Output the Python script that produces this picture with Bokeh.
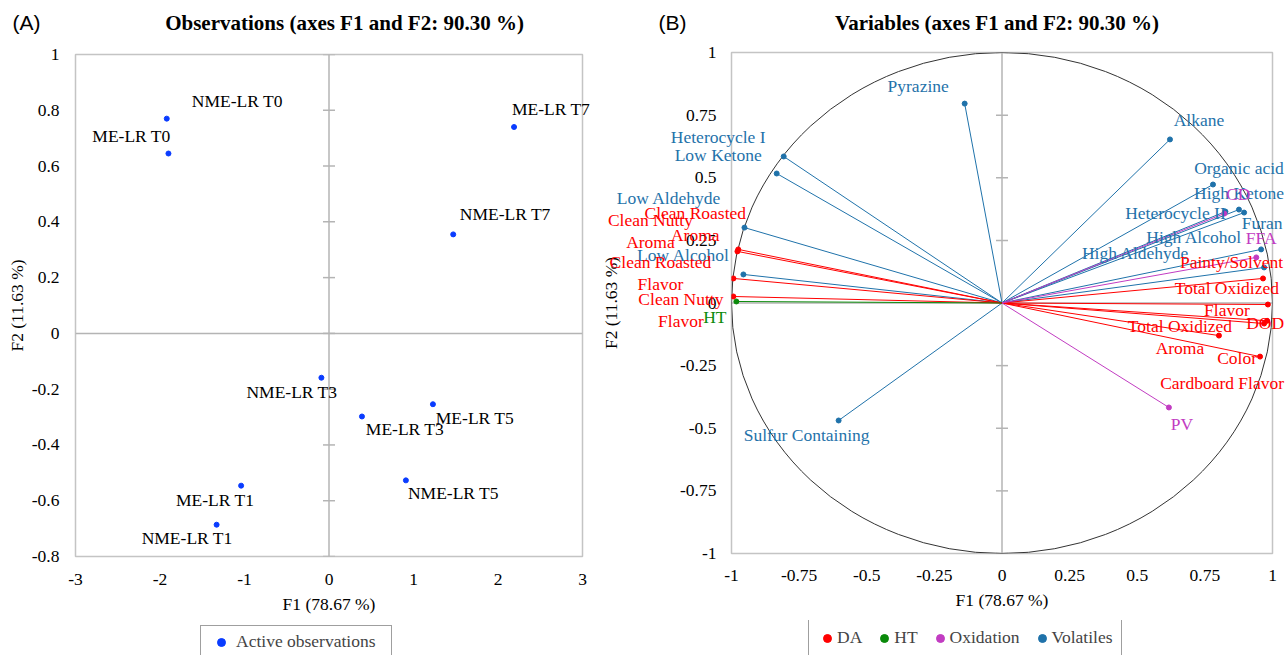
from bokeh.plotting import figure
from bokeh.layouts import row, column
from bokeh.models import Range1d, FixedTicker, Span, Legend, LegendItem, ColumnDataSource
from bokeh.core.properties import value
from bokeh.embed import file_html
from bokeh.resources import INLINE

SERIF = "Liberation Serif"
SANS = "Liberation Sans"

# ---------------- (A) Observations ----------------
OBS_NAMES = ["NME-LR T0", "ME-LR T0", "ME-LR T7", "NME-LR T7", "NME-LR T3",
             "ME-LR T3", "ME-LR T5", "NME-LR T5", "ME-LR T1", "NME-LR T1"]
OBS_F1 = [-1.92, -1.90, 2.19, 1.47, -0.09, 0.39, 1.23, 0.91, -1.04, -1.33]
OBS_F2 = [0.77, 0.645, 0.74, 0.355, -0.159, -0.298, -0.254, -0.527, -0.546, -0.686]

A_X_TICKS = [-3, -2, -1, 0, 1, 2, 3]
A_X_LABELS = ["-3", "-2", "-1", "0", "1", "2", "3"]
A_Y_TICKS = [-0.8, -0.6, -0.4, -0.2, 0, 0.2, 0.4, 0.6, 0.8, 1]
A_Y_LABELS = ["-0.8", "-0.6", "-0.4", "-0.2", "0", "0.2", "0.4", "0.6", "0.8", "1"]

# ---------------- (B) Variables ----------------
VOL_NAMES = ["Pyrazine", "Alkane", "Heterocycle I", "Low Ketone", "Low Aldehyde",
             "Low Alcohol", "Sulfur Containing", "Organic acid", "High Ketone",
             "Heterocycle II", "Furan", "High Alcohol", "High Aldehyde"]
VOL_F1 = [-0.138, 0.621, -0.807, -0.833, -0.952, -0.956, -0.604, 0.780, 0.876,
          0.826, 0.895, 0.958, 0.969]
VOL_F2 = [0.796, 0.653, 0.585, 0.517, 0.301, 0.114, -0.469, 0.473, 0.373,
          0.365, 0.361, 0.214, 0.142]

DA_NAMES = ["Clean Roasted\nAroma", "Clean Nutty\nAroma", "Clean Roasted\nFlavor",
            "Clean Nutty\nFlavor", "Painty/Solvent", "Total Oxidized\nFlavor", "DOD",
            "Total Oxidized\nAroma", "Color", "Cardboard Flavor"]
DA_F1 = [-0.975, -0.978, -0.993, -0.993, 0.965, 0.983, 0.969, 0.802, 0.954, 0.980]
DA_F2 = [0.214, 0.206, 0.098, 0.026, 0.098, -0.006, -0.082, -0.130, -0.214, -0.071]

HT_NAMES = ["HT"]
HT_F1 = [-0.982]
HT_F2 = [0.006]

OX_NAMES = ["CD", "FFA", "PV"]
OX_F1 = [0.822, 0.940, 0.617]
OX_F2 = [0.357, 0.182, -0.417]

B_TICKS = [-1, -0.75, -0.5, -0.25, 0, 0.25, 0.5, 0.75, 1]
B_LABELS = ["-1", "-0.75", "-0.5", "-0.25", "0", "0.25", "0.5", "0.75", "1"]

TITLE_A = "Observations (axes F1 and F2: 90.30 %)"
TITLE_B = "Variables (axes F1 and F2: 90.30 %)"
LEGEND_A = ["Active observations"]
LEGEND_B = ["DA", "HT", "Oxidation", "Volatiles"]

# ---------------- label placement (pixel offsets, style only) ----------------
OBS_DX = [70.5, -37, 37, 52, -29.5, 43, 42, 47.5, -26, -29.5]
OBS_DY = [-18, -18, -18, -20, 14, 13, 14, 13, 14, 13]
VOL_DX = [-46.5, 29, -65.5, -58.5, -75.5, -60, -32, 26, 0, -50, 18, -67, -128.5]
VOL_DY = [-18, -19, -19, -18, -30, -19, 15, -17, -17, 1, 10, -12, -14]
DA_DX = [-43, -87, -73, -52.5, -31.5, -41, 1, -39, -23, -45]
DA_DY = [-25.5, -20.5, -5.5, 14, -16, -6, -1, 1.5, 1, 62]
HT_DX = [-21.5]
HT_DY = [16]
OX_DX = [14, 5, 13]
OX_DY = [-20, -19, 17]

C_OBS = "#0a3cff"
C_DA = "#ff0000"
C_HT = "#0a8a0a"
C_OX = "#c23cc2"
C_VOL = "#1f72aa"
GRAY = "#b4b4b4"
FS = "17.5px"


def style_axes(p, xt, xl, yt, yl, xstand, xlabstand, ystand, ylabstand):
    p.xaxis.ticker = FixedTicker(ticks=xt)
    p.yaxis.ticker = FixedTicker(ticks=yt)
    p.xaxis.major_label_overrides = dict(zip(xt, xl))
    p.yaxis.major_label_overrides = dict(zip(yt, yl))
    for ax in (p.xaxis, p.yaxis):
        ax.axis_line_color = None
        ax.major_tick_line_color = None
        ax.minor_tick_line_color = None
        ax.major_tick_out = 0
        ax.major_tick_in = 0
        ax.major_label_text_font = SERIF
        ax.major_label_text_font_size = FS
        ax.major_label_text_color = "#000000"
        ax.axis_label_text_font = SERIF
        ax.axis_label_text_font_size = FS
        ax.axis_label_text_font_style = "normal"
        ax.axis_label_text_color = "#000000"
    p.xaxis.major_label_standoff = xstand
    p.xaxis.axis_label_standoff = xlabstand
    p.yaxis.major_label_standoff = ystand
    p.yaxis.axis_label_standoff = ylabstand
    p.xaxis.axis_label = "F1 (78.67 %)"
    p.yaxis.axis_label = "F2 (11.63 %)"
    p.xgrid.visible = False
    p.ygrid.visible = False
    p.outline_line_color = "#c4c4c4"
    p.outline_line_width = 1.5
    p.background_fill_color = "white"
    p.border_fill_color = "white"
    p.add_layout(Span(location=0, dimension="height", line_color=GRAY, line_width=1.5, level="underlay"))
    p.add_layout(Span(location=0, dimension="width", line_color=GRAY, line_width=1.5, level="underlay"))
    p.scatter(x=[0] * len(yt), y=yt, marker="dash", size=12, line_color=GRAY, line_width=1.5, level="underlay")


def labels(p, names, xs, ys, dx, dy, color, font=SERIF, size=FS, style="normal"):
    src = ColumnDataSource(dict(x=xs, y=ys, t=names, dx=dx, dy=dy))
    p.text(x="x", y="y", text="t", x_offset="dx", y_offset="dy", source=src,
           text_color=color, text_font=value(font), text_font_size=size,
           text_font_style=style, text_align="center", text_baseline="middle",
           text_line_height=1.1, level="overlay")


def legend_figure(width, names, colors, location, orientation, padding, glyph_width,
                  label_width, spacing):
    # a strip below each chart that only holds the legend box
    lf = figure(width=width, height=35, x_range=Range1d(0, 1), y_range=Range1d(0, 1),
                output_backend="svg", toolbar_location=None, min_border=0,
                x_axis_location=None, y_axis_location=None)
    lf.xgrid.visible = False
    lf.ygrid.visible = False
    lf.outline_line_color = None
    items = []
    for nm, col in zip(names, colors):
        # proxy renderer (point lies outside the strip's range, so only the legend swatch shows)
        r = lf.scatter(x=[5], y=[5], size=5, color=col)
        items.append(LegendItem(label=nm, renderers=[r]))
    lf.add_layout(Legend(items=items, location=location, orientation=orientation,
                         label_text_font=SERIF, label_text_font_size=FS,
                         glyph_width=glyph_width, glyph_height=20, label_width=label_width,
                         label_standoff=0, padding=padding, spacing=spacing, margin=0,
                         border_line_color="#404040", border_line_width=1.5,
                         background_fill_alpha=1))
    return lf


# ================= figure A =================
pa = figure(frame_width=507, frame_height=502, x_range=Range1d(-3, 3), y_range=Range1d(-0.8, 1),
            output_backend="svg", toolbar_location=None,
            min_border_left=75, min_border_right=9, min_border_top=54, min_border_bottom=64)
style_axes(pa, A_X_TICKS, A_X_LABELS, A_Y_TICKS, A_Y_LABELS, 17, 6, 16, 2)
pa.scatter(x=OBS_F1, y=OBS_F2, size=5, color=C_OBS)
labels(pa, OBS_NAMES, OBS_F1, OBS_F2, OBS_DX, OBS_DY, "#000000")
labels(pa, [TITLE_A], [-3], [1], [269], [-32], "#000000", size="21px", style="bold")
labels(pa, ["(A)"], [-3], [1], [-49], [-32], "#000000", font=SANS, size="21px")

la = legend_figure(591, LEGEND_A, [C_OBS], (125, -3), "vertical", 5, 30, 150, 0)

# ================= figure B =================
pb = figure(frame_width=541, frame_height=501, x_range=Range1d(-1, 1), y_range=Range1d(-1, 1),
            output_backend="svg", toolbar_location=None,
            min_border_left=140, min_border_right=13, min_border_top=52, min_border_bottom=67)
style_axes(pb, B_TICKS, B_LABELS, B_TICKS, B_LABELS, 16, 6, 15, 56)

pb.ellipse(x=[0], y=[0], width=2, height=2, fill_color=None, line_color="#333333", line_width=1)

groups = [
    (VOL_NAMES, VOL_F1, VOL_F2, VOL_DX, VOL_DY, C_VOL),
    (DA_NAMES, DA_F1, DA_F2, DA_DX, DA_DY, C_DA),
    (HT_NAMES, HT_F1, HT_F2, HT_DX, HT_DY, C_HT),
    (OX_NAMES, OX_F1, OX_F2, OX_DX, OX_DY, C_OX),
]
for names, xs, ys, dx, dy, col in groups:
    pb.segment(x0=[0] * len(xs), y0=[0] * len(xs), x1=xs, y1=ys, line_color=col, line_width=1)
for names, xs, ys, dx, dy, col in groups:
    pb.scatter(x=xs, y=ys, size=5, color=col)
for names, xs, ys, dx, dy, col in groups:
    labels(pb, names, xs, ys, dx, dy, col)
labels(pb, [TITLE_B], [-1], [1], [265.5], [-30], "#000000", size="21px", style="bold")
labels(pb, ["(B)"], [-1], [1], [-59], [-30], "#000000", font=SANS, size="21px")

lb = legend_figure(694, LEGEND_B, [C_DA, C_HT, C_OX, C_VOL], (77, -2), "horizontal", 8, 20, 20, 12)

layout = row(column(pa, la), column(pb, lb))
open("out.html", "w").write(file_html(layout, INLINE))
